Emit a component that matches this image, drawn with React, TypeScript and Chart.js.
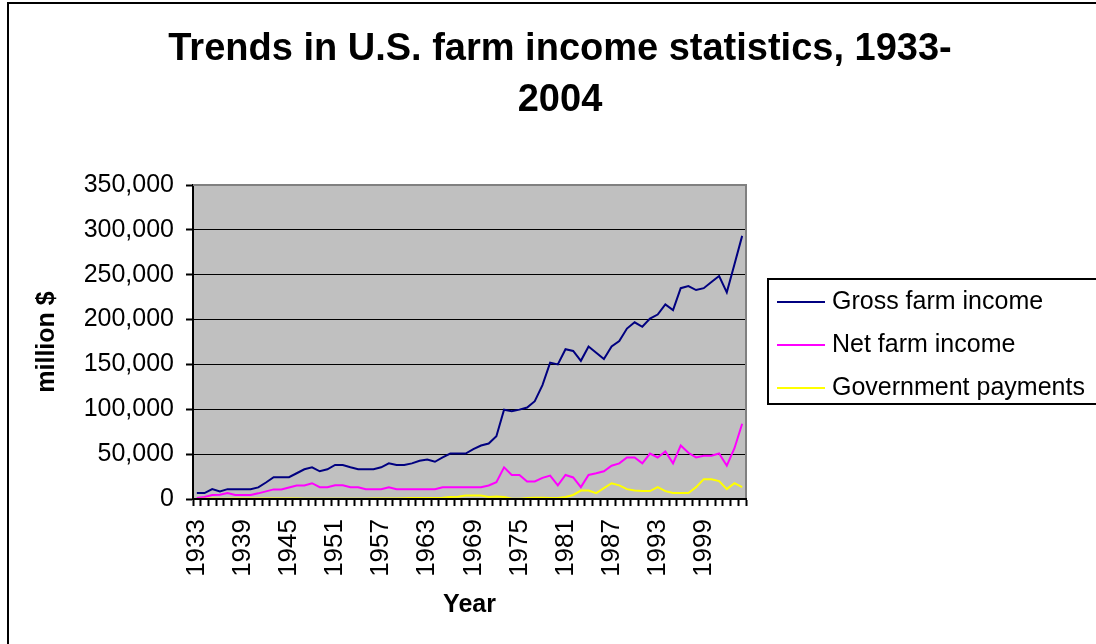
import React, { useEffect, useRef } from 'react';
import { Chart, registerables } from 'chart.js';

Chart.register(...registerables);

const years: string[] = [
  '1933', '1934', '1935', '1936', '1937', '1938', '1939', '1940', '1941', '1942',
  '1943', '1944', '1945', '1946', '1947', '1948', '1949', '1950', '1951', '1952',
  '1953', '1954', '1955', '1956', '1957', '1958', '1959', '1960', '1961', '1962',
  '1963', '1964', '1965', '1966', '1967', '1968', '1969', '1970', '1971', '1972',
  '1973', '1974', '1975', '1976', '1977', '1978', '1979', '1980', '1981', '1982',
  '1983', '1984', '1985', '1986', '1987', '1988', '1989', '1990', '1991', '1992',
  '1993', '1994', '1995', '1996', '1997', '1998', '1999', '2000', '2001', '2002',
  '2003', '2004',
];

const xTickLabels: string[] = [
  '1933', '1939', '1945', '1951', '1957', '1963', '1969', '1975', '1981', '1987', '1993', '1999',
];

const grossFarmIncome: number[] = [
  6600, 6600, 11000, 8500, 11000, 11000, 11000, 11000, 12900, 18400,
  24300, 24300, 24300, 28700, 33100, 35300, 30900, 33100, 37900, 37900,
  35300, 33100, 33100, 33100, 35300, 39700, 37900, 37900, 39700, 42700,
  44100, 41500, 46300, 50700, 50700, 50700, 55500, 59600, 61800, 69900,
  99500, 97800, 99600, 102000, 109000, 127000, 152000, 150000, 167000, 165000,
  154000, 170000, 163000, 156000, 170000, 176000, 190000, 197000, 192000, 201000,
  205600, 216800, 210500, 235000, 237300, 232900, 235000, 241800, 248500, 230300,
  261600, 293300,
];

const netFarmIncome: number[] = [
  1100, 2200, 4400, 4800, 6600, 4400, 4400, 4400, 6300, 8500,
  10700, 10700, 12900, 15100, 15100, 17600, 13200, 13200, 15400, 15400,
  13200, 13200, 11000, 11000, 11000, 13200, 11000, 11000, 11000, 11000,
  11000, 11000, 13200, 13200, 13200, 13200, 13200, 13200, 15100, 18800,
  35300, 26800, 26800, 19500, 19500, 23500, 26100, 15100, 26800, 24000,
  13200, 26800, 28700, 30900, 37100, 39700, 46300, 46300, 39700, 50700,
  46300, 52900, 39700, 59600, 51500, 46300, 48200, 48200, 50700, 37100,
  56600, 83800,
];

const governmentPayments: number[] = [
  100, 400, 500, 300, 400, 500, 600, 600, 500, 500,
  600, 600, 600, 600, 300, 300, 200, 300, 300, 300,
  200, 300, 200, 500, 600, 600, 500, 700, 1000, 1000,
  1100, 1100, 1300, 2200, 2500, 4000, 4000, 4000, 2200, 2900,
  2200, 300, 400, 1100, 1500, 1500, 1200, 1200, 2200, 4500,
  9400, 9400, 6600, 12100, 17600, 15200, 11000, 9400, 8800, 8800,
  13200, 8800, 6600, 6600, 6600, 13200, 22100, 22100, 20000, 11000,
  17600, 13200,
];

const titleLines: string[] = ['Trends in U.S. farm income statistics, 1933-', '2004'];

const FONT = "'Liberation Sans', Arial, Helvetica, sans-serif";

const fmt = (v: number) => String(Math.round(v)).replace(/\B(?=(\d{3})+(?!\d))/g, ',');

const decorPlugin = {
  id: 'excelDecor',
  beforeDraw(chart: any) {
    const { ctx, chartArea: a } = chart;
    ctx.save();
    ctx.fillStyle = '#ffffff';
    ctx.fillRect(0, 0, chart.width, chart.height);
    ctx.fillStyle = '#C0C0C0';
    ctx.fillRect(a.left, a.top, a.right - a.left, a.bottom - a.top);
    ctx.restore();
  },
  afterDatasetsDraw(chart: any) {
    const { ctx, chartArea: a } = chart;
    ctx.save();
    ctx.strokeStyle = '#808080';
    ctx.lineWidth = 2;
    ctx.beginPath();
    ctx.moveTo(a.left, a.top);
    ctx.lineTo(a.right, a.top);
    ctx.lineTo(a.right, a.bottom);
    ctx.stroke();
    ctx.strokeStyle = '#000000';
    ctx.lineWidth = 2;
    ctx.beginPath();
    ctx.moveTo(a.left - 1, a.bottom);
    ctx.lineTo(a.right + 1, a.bottom);
    ctx.stroke();
    ctx.restore();
  },
  afterDraw(chart: any) {
    const { ctx } = chart;
    ctx.save();
    // outer chart border (left and top; image is cropped right/bottom)
    ctx.strokeStyle = '#000';
    ctx.lineWidth = 2;
    ctx.beginPath();
    ctx.moveTo(8, chart.height + 2);
    ctx.lineTo(8, 3);
    ctx.lineTo(chart.width + 2, 3);
    ctx.stroke();

    // title
    ctx.fillStyle = '#000';
    ctx.font = `bold 38px ${FONT}`;
    ctx.textAlign = 'center';
    ctx.textBaseline = 'middle';
    ctx.fillText(titleLines[0], 560, 50);
    ctx.fillText(titleLines[1], 560, 101);

    // legend
    const lx = 768, ly = 279, lh = 125;
    ctx.strokeStyle = '#000';
    ctx.lineWidth = 2;
    ctx.strokeRect(lx, ly, chart.width + 10 - lx, lh);
    ctx.font = `25px ${FONT}`;
    ctx.textAlign = 'left';
    ctx.textBaseline = 'middle';
    const rows = [302, 345, 388];
    chart.data.datasets.forEach((ds: any, i: number) => {
      const y = rows[i];
      ctx.strokeStyle = ds.borderColor;
      ctx.lineWidth = 2;
      ctx.beginPath();
      ctx.moveTo(777, y);
      ctx.lineTo(825, y);
      ctx.stroke();
      ctx.fillStyle = '#000';
      ctx.fillText(ds.label, 832, y);
    });
    ctx.restore();
  },
};

export default function App() {
  const canvasRef = useRef<HTMLCanvasElement | null>(null);

  useEffect(() => {
    if (!canvasRef.current) return;
    Chart.defaults.font.family = FONT;
    const chart = new Chart(canvasRef.current, {
      type: 'line',
      data: {
        labels: years,
        datasets: [
          {
            label: 'Gross farm income',
            data: grossFarmIncome,
            borderColor: '#000080',
            backgroundColor: '#000080',
            borderWidth: 2,
            pointRadius: 0,
            tension: 0,
            fill: false,
            order: 3,
          },
          {
            label: 'Net farm income',
            data: netFarmIncome,
            borderColor: '#FF00FF',
            backgroundColor: '#FF00FF',
            borderWidth: 2,
            pointRadius: 0,
            tension: 0,
            fill: false,
            order: 2,
          },
          {
            label: 'Government payments',
            data: governmentPayments,
            borderColor: '#FFFF00',
            backgroundColor: '#FFFF00',
            borderWidth: 2,
            pointRadius: 0,
            tension: 0,
            fill: false,
            order: 1,
          },
        ],
      },
      options: {
        responsive: false,
        animation: false,
        events: [],
        layout: { padding: { top: 185, left: 8, right: 350, bottom: 0 } },
        plugins: {
          legend: { display: false },
          title: { display: false },
          tooltip: { enabled: false },
        },
        scales: {
          x: {
            type: 'category',
            offset: true,
            grid: {
              offset: true,
              drawOnChartArea: false,
              drawTicks: true,
              tickLength: 7,
              tickColor: '#000',
              tickWidth: 2,
              color: '#000',
            },
            border: { display: true, color: '#000', width: 2 },
            ticks: {
              autoSkip: false,
              maxRotation: 90,
              minRotation: 90,
              padding: 13,
              color: '#000',
              font: { size: 26 },
              callback: (_v: any, i: number) => (xTickLabels.includes(years[i]) ? years[i] : ''),
            },
            title: {
              display: true,
              text: 'Year',
              color: '#000',
              font: { size: 25, weight: 'bold' },
              padding: { top: 0, bottom: 24 },
            },
            afterFit: (s: any) => {
              s.height = 145;
            },
          },
          y: {
            min: 0,
            max: 350000,
            ticks: {
              stepSize: 50000,
              padding: 12,
              color: '#000',
              font: { size: 25 },
              callback: (v: any) => fmt(Number(v)),
            },
            grid: {
              color: (c: any) => (c.tick && c.tick.value === 350000 ? 'rgba(0,0,0,0)' : '#000'),
              lineWidth: 1,
              drawTicks: true,
              tickLength: 7,
              tickColor: '#000',
              tickWidth: 2,
            },
            border: { display: true, color: '#000', width: 2 },
            title: {
              display: true,
              text: 'million $',
              color: '#000',
              font: { size: 25, weight: 'bold' },
              padding: { top: 24, bottom: 0 },
            },
            afterFit: (s: any) => {
              s.width = 185;
            },
          },
        },
      } as any,
      plugins: [decorPlugin],
    });
    return () => chart.destroy();
  }, []);

  return (
    <div style={{ position: 'absolute', left: 0, top: 0, width: 1096, height: 644, overflow: 'hidden', background: '#fff' }}>
      <canvas ref={canvasRef} width={1096} height={644} />
    </div>
  );
}
